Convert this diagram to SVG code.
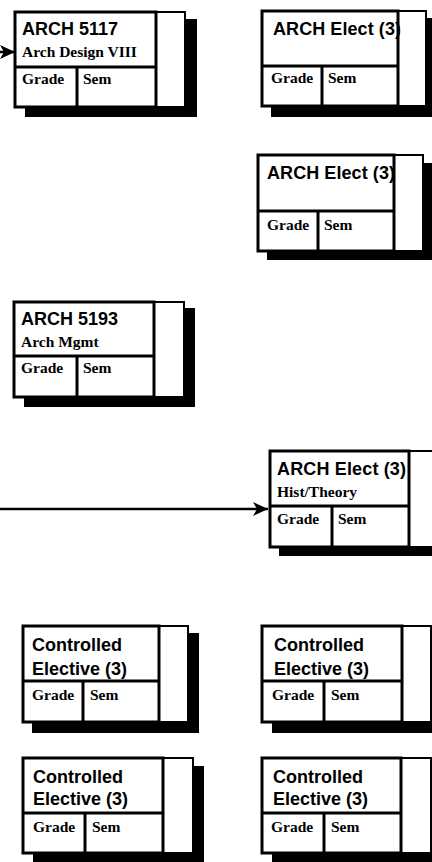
<svg xmlns="http://www.w3.org/2000/svg" width="432" height="862" viewBox="0 0 432 862">
<defs>
<style>
.sh{fill:#000}
.bx{fill:#fff;stroke:#000;stroke-width:3}
.col{fill:#fff;stroke:#000;stroke-width:2}
.ln{stroke:#000;stroke-width:3;fill:none}
.h{font-family:"Liberation Sans",Arial,sans-serif;font-weight:bold;font-size:18px;fill:#000}
.s{font-family:"Liberation Serif","Times New Roman",serif;font-weight:bold;font-size:15.5px;fill:#000}
.g{font-family:"Liberation Serif","Times New Roman",serif;font-weight:bold;font-size:15.5px;fill:#000}
.cn{stroke:#000;stroke-width:2.5;fill:none}
</style>
<marker id="ah" markerUnits="userSpaceOnUse" markerWidth="16" markerHeight="16" viewBox="0 0 16 16" refX="15" refY="8" orient="auto">
<path d="M0,1 L15,8 L0,15 L4,8 z" fill="#000"/>
</marker>
</defs>
<rect width="432" height="862" fill="#fff"/>

<g id="connectors">
<line class="cn" x1="0" y1="52" x2="15" y2="52" marker-end="url(#ah)"/>
<line class="cn" x1="0" y1="509" x2="268" y2="509" marker-end="url(#ah)"/>
</g>

<g id="arch5117">
<rect class="sh" x="25" y="19" width="172" height="98"/>
<rect class="col" x="15" y="12" width="170" height="95"/>
<rect class="bx" x="15" y="12" width="141" height="95"/>
<line class="ln" x1="15" y1="67" x2="156" y2="67"/>
<line class="ln" x1="77" y1="67" x2="77" y2="107"/>
<text class="h" x="22" y="35">ARCH 5117</text>
<text class="s" x="22" y="57">Arch Design VIII</text>
<text class="g" x="22" y="84">Grade</text>
<text class="g" x="83" y="84">Sem</text>
</g>

<g id="elect1">
<rect class="sh" x="271" y="18" width="170" height="99"/>
<rect class="col" x="262" y="11" width="164" height="95"/>
<rect class="bx" x="262" y="11" width="136" height="95"/>
<line class="ln" x1="262" y1="66" x2="398" y2="66"/>
<line class="ln" x1="322" y1="66" x2="322" y2="106"/>
<text class="h" x="273" y="35" textLength="128" lengthAdjust="spacing">ARCH Elect (3)</text>
<text class="g" x="271" y="83">Grade</text>
<text class="g" x="328" y="83">Sem</text>
</g>

<g id="elect2">
<rect class="sh" x="267" y="163" width="170" height="97"/>
<rect class="col" x="258" y="155" width="165" height="96"/>
<rect class="bx" x="258" y="155" width="136" height="96"/>
<line class="ln" x1="258" y1="211" x2="394" y2="211"/>
<line class="ln" x1="318" y1="211" x2="318" y2="251"/>
<text class="h" x="267" y="179" textLength="128" lengthAdjust="spacing">ARCH Elect (3)</text>
<text class="g" x="267" y="230">Grade</text>
<text class="g" x="324" y="230">Sem</text>
</g>

<g id="arch5193">
<rect class="sh" x="24" y="308" width="171" height="99"/>
<rect class="col" x="14" y="302" width="170" height="95"/>
<rect class="bx" x="14" y="302" width="140" height="95"/>
<line class="ln" x1="14" y1="356" x2="154" y2="356"/>
<line class="ln" x1="77" y1="356" x2="77" y2="397"/>
<text class="h" x="21" y="325">ARCH 5193</text>
<text class="s" x="21" y="347">Arch Mgmt</text>
<text class="g" x="21" y="373">Grade</text>
<text class="g" x="83" y="373">Sem</text>
</g>

<g id="histtheory">
<rect class="sh" x="279" y="458" width="170" height="98"/>
<rect class="col" x="270" y="451" width="170" height="96"/>
<rect class="bx" x="270" y="451" width="139" height="96"/>
<line class="ln" x1="270" y1="506" x2="409" y2="506"/>
<line class="ln" x1="332" y1="506" x2="332" y2="547"/>
<text class="h" x="277" y="475" textLength="129" lengthAdjust="spacing">ARCH Elect (3)</text>
<text class="s" x="277" y="497">Hist/Theory</text>
<text class="g" x="277" y="524">Grade</text>
<text class="g" x="338" y="524">Sem</text>
</g>

<g id="ce1">
<rect class="sh" x="32" y="633" width="167" height="100"/>
<rect class="col" x="23" y="626" width="165" height="96"/>
<rect class="bx" x="23" y="626" width="136" height="96"/>
<line class="ln" x1="23" y1="681" x2="159" y2="681"/>
<line class="ln" x1="83" y1="681" x2="83" y2="722"/>
<text class="h" x="32" y="651">Controlled</text>
<text class="h" x="32" y="675">Elective (3)</text>
<text class="g" x="32" y="700">Grade</text>
<text class="g" x="90" y="700">Sem</text>
</g>

<g id="ce2">
<rect class="sh" x="272" y="633" width="170" height="100"/>
<rect class="col" x="262" y="626" width="169" height="96"/>
<rect class="bx" x="262" y="626" width="140" height="96"/>
<line class="ln" x1="262" y1="681" x2="402" y2="681"/>
<line class="ln" x1="324" y1="681" x2="324" y2="722"/>
<text class="h" x="274" y="651">Controlled</text>
<text class="h" x="274" y="675">Elective (3)</text>
<text class="g" x="272" y="700">Grade</text>
<text class="g" x="331" y="700">Sem</text>
</g>

<g id="ce3">
<rect class="sh" x="33" y="766" width="171" height="100"/>
<rect class="col" x="23" y="758" width="170" height="95"/>
<rect class="bx" x="23" y="758" width="140" height="95"/>
<line class="ln" x1="23" y1="813" x2="163" y2="813"/>
<line class="ln" x1="85" y1="813" x2="85" y2="853"/>
<text class="h" x="33" y="783">Controlled</text>
<text class="h" x="33" y="805">Elective (3)</text>
<text class="g" x="33" y="832">Grade</text>
<text class="g" x="92" y="832">Sem</text>
</g>

<g id="ce4">
<rect class="sh" x="272" y="766" width="170" height="100"/>
<rect class="col" x="262" y="758" width="169" height="95"/>
<rect class="bx" x="262" y="758" width="139" height="95"/>
<line class="ln" x1="262" y1="813" x2="401" y2="813"/>
<line class="ln" x1="324" y1="813" x2="324" y2="853"/>
<text class="h" x="273" y="783">Controlled</text>
<text class="h" x="273" y="805">Elective (3)</text>
<text class="g" x="271" y="832">Grade</text>
<text class="g" x="331" y="832">Sem</text>
</g>
</svg>
